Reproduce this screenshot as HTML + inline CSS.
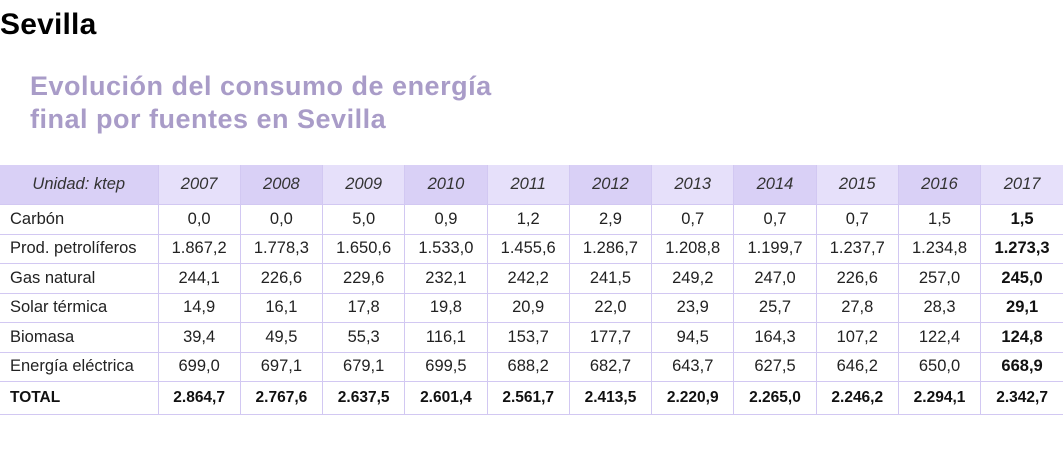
<!DOCTYPE html>
<html><head><meta charset="utf-8"><style>
body{margin:0;width:1063px;height:471px;background:#fff;font-family:"Liberation Sans",sans-serif;position:relative;overflow:hidden}
.h1{position:absolute;left:0;top:8px;font-size:30px;font-weight:bold;color:#000;letter-spacing:0.2px}
.h2{position:absolute;left:30px;top:70px;font-size:27px;line-height:33px;font-weight:bold;color:#a99cc8;letter-spacing:0.5px}
table{position:absolute;left:0;top:165px;border-collapse:collapse;table-layout:fixed;width:1063px}
td{border:1px solid #d2c8f2;font-size:16.5px;color:#222;text-align:center;height:28.5px;padding:0;white-space:nowrap}
tr:first-child td{height:39px;font-style:italic;color:#333;border-top:none}
td:first-child{text-align:left;padding-left:10px;border-left:none}
tr:first-child td:first-child{text-align:center;padding-left:0}
td:last-child{border-right:none;font-weight:bold;color:#111}
tr:first-child td:last-child{font-weight:normal;color:#333}
.d{background:#d9d0f6}.l{background:#e6e0fa}
tr.t td{font-weight:bold;color:#111;height:32px;font-size:15.5px}
</style></head><body>
<div class="h1">Sevilla</div>
<div class="h2">Evolución del consumo de energía<br>final por fuentes en Sevilla</div>
<table>
<colgroup><col style="width:158px"><col span="11" style="width:82.27px"></colgroup>
<tr><td class="d">Unidad: ktep</td><td class="l">2007</td><td class="d">2008</td><td class="l">2009</td><td class="d">2010</td><td class="l">2011</td><td class="d">2012</td><td class="l">2013</td><td class="d">2014</td><td class="l">2015</td><td class="d">2016</td><td class="l">2017</td></tr>
<tr><td>Carbón</td><td>0,0</td><td>0,0</td><td>5,0</td><td>0,9</td><td>1,2</td><td>2,9</td><td>0,7</td><td>0,7</td><td>0,7</td><td>1,5</td><td>1,5</td></tr>
<tr><td>Prod. petrolíferos</td><td>1.867,2</td><td>1.778,3</td><td>1.650,6</td><td>1.533,0</td><td>1.455,6</td><td>1.286,7</td><td>1.208,8</td><td>1.199,7</td><td>1.237,7</td><td>1.234,8</td><td>1.273,3</td></tr>
<tr><td>Gas natural</td><td>244,1</td><td>226,6</td><td>229,6</td><td>232,1</td><td>242,2</td><td>241,5</td><td>249,2</td><td>247,0</td><td>226,6</td><td>257,0</td><td>245,0</td></tr>
<tr><td>Solar térmica</td><td>14,9</td><td>16,1</td><td>17,8</td><td>19,8</td><td>20,9</td><td>22,0</td><td>23,9</td><td>25,7</td><td>27,8</td><td>28,3</td><td>29,1</td></tr>
<tr><td>Biomasa</td><td>39,4</td><td>49,5</td><td>55,3</td><td>116,1</td><td>153,7</td><td>177,7</td><td>94,5</td><td>164,3</td><td>107,2</td><td>122,4</td><td>124,8</td></tr>
<tr><td>Energía eléctrica</td><td>699,0</td><td>697,1</td><td>679,1</td><td>699,5</td><td>688,2</td><td>682,7</td><td>643,7</td><td>627,5</td><td>646,2</td><td>650,0</td><td>668,9</td></tr>
<tr class="t"><td>TOTAL</td><td>2.864,7</td><td>2.767,6</td><td>2.637,5</td><td>2.601,4</td><td>2.561,7</td><td>2.413,5</td><td>2.220,9</td><td>2.265,0</td><td>2.246,2</td><td>2.294,1</td><td>2.342,7</td></tr>
</table>
</body></html>
